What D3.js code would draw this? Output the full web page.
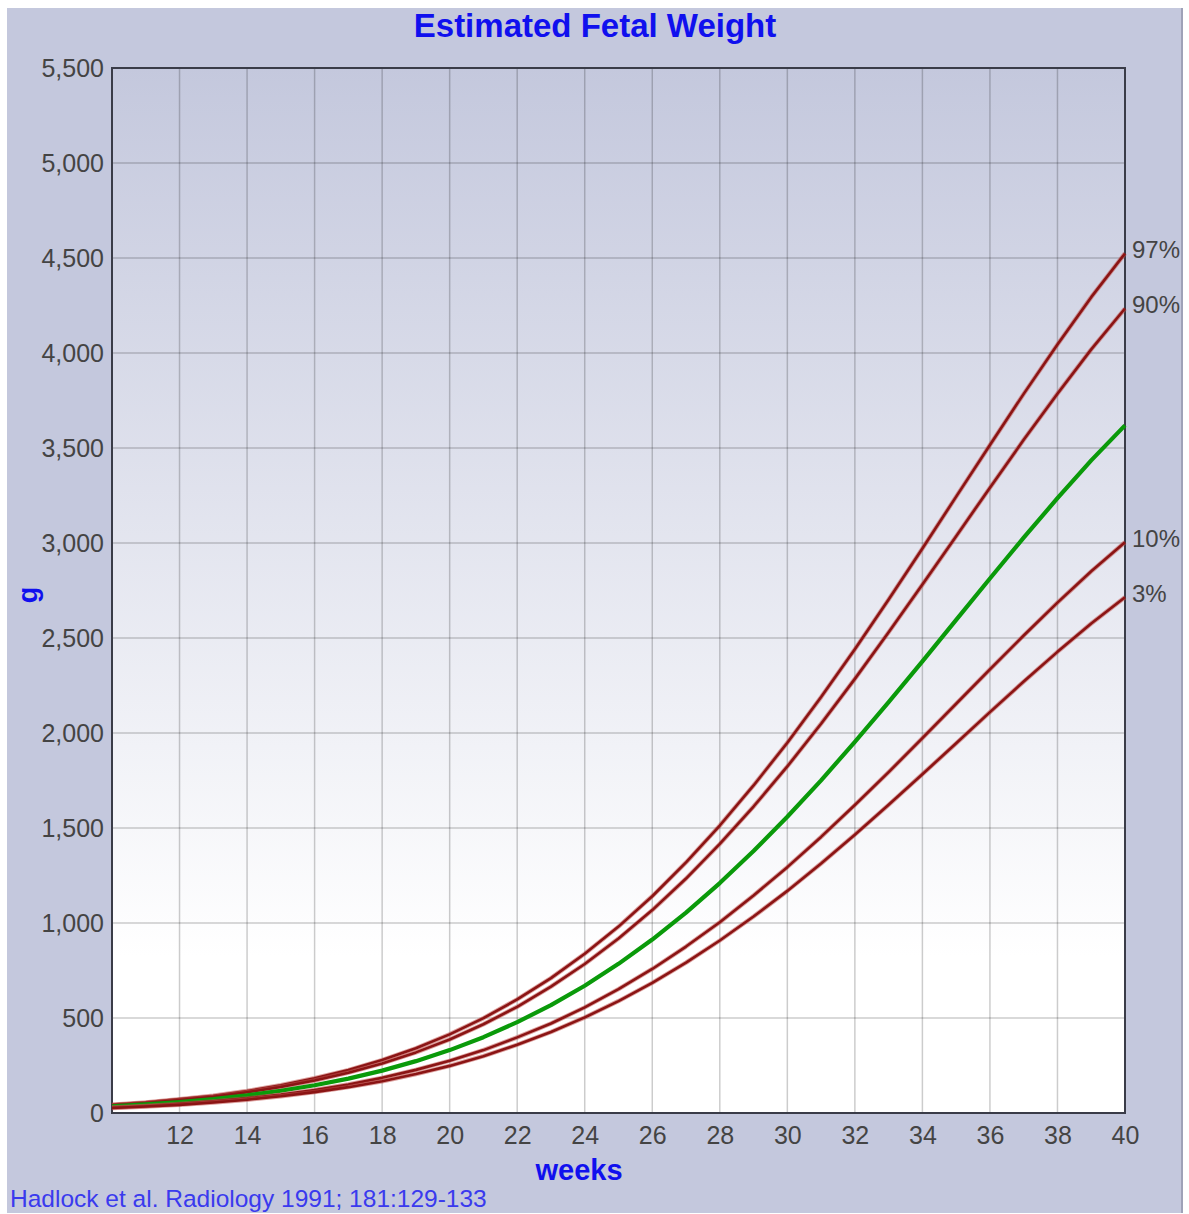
<!DOCTYPE html>
<html>
<head>
<meta charset="utf-8">
<script src="https://cdn.jsdelivr.net/npm/d3@7"></script>
<style>
  body { margin: 0; background: #fff; }
  text { font-family: Arial, "Liberation Sans", sans-serif; }
</style>
</head>
<body>
<div class="chart-container"></div>
<script>
// Data: Hadlock percentiles (g) by week
var weeks = d3.range(10, 41);
var p3  = [26, 34, 43, 55, 70, 88, 110, 136, 167, 205, 248, 299, 359, 426, 503, 589, 685, 791, 908, 1034, 1169, 1313, 1465, 1622, 1783, 1946, 2110, 2271, 2427, 2576, 2714];
var p10 = [29, 37, 48, 61, 77, 97, 121, 150, 185, 227, 275, 331, 398, 471, 556, 652, 758, 876, 1004, 1145, 1294, 1453, 1621, 1794, 1973, 2154, 2335, 2513, 2686, 2851, 3004];
var p50 = [35, 45, 58, 73, 93, 117, 146, 181, 223, 273, 331, 399, 478, 568, 670, 785, 913, 1055, 1210, 1379, 1559, 1751, 1953, 2162, 2377, 2595, 2813, 3028, 3236, 3435, 3619];
var p90 = [41, 53, 68, 85, 109, 137, 171, 212, 261, 319, 387, 467, 559, 665, 784, 918, 1068, 1234, 1416, 1613, 1824, 2049, 2285, 2530, 2781, 3036, 3291, 3543, 3786, 4019, 4234];
var p97 = [44, 56, 73, 91, 116, 146, 183, 226, 279, 341, 414, 499, 598, 710, 838, 981, 1141, 1319, 1513, 1724, 1949, 2189, 2441, 2703, 2971, 3244, 3516, 3785, 4045, 4294, 4524];
var xTicks = [12, 14, 16, 18, 20, 22, 24, 26, 28, 30, 32, 34, 36, 38, 40];
var yTicks = d3.range(0, 5501, 500);

var W = 1189, H = 1214;
var margin = { top: 68, right: 64, bottom: 101, left: 112 },
    width = W - margin.left - margin.right,
    height = H - margin.top - margin.bottom;

var x = d3.scaleLinear().domain([10, 40]).range([0, width]);
var y = d3.scaleLinear().domain([0, 5500]).range([height, 0]);

var svg = d3.select('.chart-container').append("svg")
    .attr("width", W)
    .attr("height", H);

var defs = svg.append("defs");
var grad = defs.append("linearGradient")
    .attr("id", "plotbg")
    .attr("x1", 0).attr("y1", 0).attr("x2", 0).attr("y2", 1);
grad.append("stop").attr("offset", "0%").attr("stop-color", "#c4c8dd");
grad.append("stop").attr("offset", "85%").attr("stop-color", "#ffffff");
grad.append("stop").attr("offset", "100%").attr("stop-color", "#ffffff");

// panel
svg.append("rect")
    .attr("x", 7).attr("y", 8)
    .attr("width", 1175).attr("height", 1205)
    .attr("fill", "#c4c8dd");
svg.append("line")
    .attr("x1", 1182).attr("x2", 1182).attr("y1", 8).attr("y2", 1213)
    .attr("stroke", "#9ea2b8").attr("stroke-width", 2);

var g = svg.append("g")
    .attr("transform", "translate(" + margin.left + "," + margin.top + ")");

g.append("rect")
    .attr("width", width).attr("height", height)
    .attr("fill", "url(#plotbg)");

// grid
g.selectAll(".vgrid")
    .data(xTicks)
    .enter().append("line")
    .attr("class", "vgrid")
    .attr("x1", function(d) { return x(d); })
    .attr("x2", function(d) { return x(d); })
    .attr("y1", 0).attr("y2", height)
    .attr("stroke", "#000").attr("stroke-opacity", 0.2).attr("stroke-width", 1.5);
g.selectAll(".hgrid")
    .data(yTicks)
    .enter().append("line")
    .attr("class", "hgrid")
    .attr("x1", 0).attr("x2", width)
    .attr("y1", function(d) { return y(d); })
    .attr("y2", function(d) { return y(d); })
    .attr("stroke", "#000").attr("stroke-opacity", 0.2).attr("stroke-width", 1.5);

// axes
var yAxis = g.append("g")
    .attr("class", "y-axis")
    .call(d3.axisLeft(y).tickValues(yTicks).tickSize(0).tickPadding(8).tickFormat(d3.format(",")));
var xAxis = g.append("g")
    .attr("class", "x-axis")
    .attr("transform", "translate(0," + height + ")")
    .call(d3.axisBottom(x).tickValues(xTicks).tickSize(0).tickPadding(13).tickFormat(d3.format("d")));
[yAxis, xAxis].forEach(function(a) {
    a.select(".domain").remove();
    a.selectAll("text")
        .style("font-family", "Arial, 'Liberation Sans', sans-serif")
        .style("font-size", "25px")
        .attr("fill", "#444");
});

// frame
g.append("rect")
    .attr("width", width).attr("height", height)
    .attr("fill", "none")
    .attr("stroke", "#3a3c48").attr("stroke-width", 2);

// curves
var series = [
    { name: "97%", values: p97, color: "#8b1414", w: 3.4 },
    { name: "90%", values: p90, color: "#8b1414", w: 3.4 },
    { name: "50%", values: p50, color: "#0a9a0a", w: 4.2 },
    { name: "10%", values: p10, color: "#8b1414", w: 3.4 },
    { name: "3%",  values: p3,  color: "#8b1414", w: 3.4 }
];

var line = d3.line()
    .x(function(d) { return x(d[0]); })
    .y(function(d) { return y(d[1]); });

series.forEach(function(s) {
    var pts = weeks.map(function(wk, i) { return [wk, s.values[i]]; });
    var green = s.name === "50%";
    if (!green) {
        g.append("path")
            .datum(pts)
            .attr("d", line)
            .attr("fill", "none")
            .attr("stroke", "#c0504d")
            .attr("stroke-opacity", 0.55)
            .attr("stroke-width", s.w + 1)
            .attr("stroke-linejoin", "round");
    }
    g.append("path")
        .datum(pts)
        .attr("d", line)
        .attr("fill", "none")
        .attr("stroke", s.color)
        .attr("stroke-width", green ? s.w : s.w - 0.8)
        .attr("stroke-linejoin", "round");
});

// end labels
series.filter(function(s) { return s.name !== "50%"; }).forEach(function(s) {
    g.append("text")
        .attr("x", width + 7)
        .attr("y", y(s.values[s.values.length - 1]) - 4)
        .attr("dy", "0.35em")
        .style("font-size", "24px")
        .attr("fill", "#444")
        .text(s.name);
});

// titles
svg.append("text")
    .attr("x", 595).attr("y", 37)
    .attr("text-anchor", "middle")
    .style("font-size", "33px").style("font-weight", "bold")
    .attr("fill", "#1010ee")
    .text("Estimated Fetal Weight");

svg.append("text")
    .attr("x", 579).attr("y", 1180)
    .attr("text-anchor", "middle")
    .style("font-size", "29px").style("font-weight", "bold")
    .attr("fill", "#1010ee")
    .text("weeks");

svg.append("text")
    .attr("transform", "translate(37,595) rotate(-90)")
    .attr("text-anchor", "middle")
    .style("font-size", "27px").style("font-weight", "bold")
    .attr("fill", "#1010ee")
    .text("g");

svg.append("text")
    .attr("x", 10).attr("y", 1207)
    .style("font-size", "24.5px")
    .attr("fill", "#3a3aee")
    .text("Hadlock et al. Radiology 1991; 181:129-133");
</script>
</body>
</html>
